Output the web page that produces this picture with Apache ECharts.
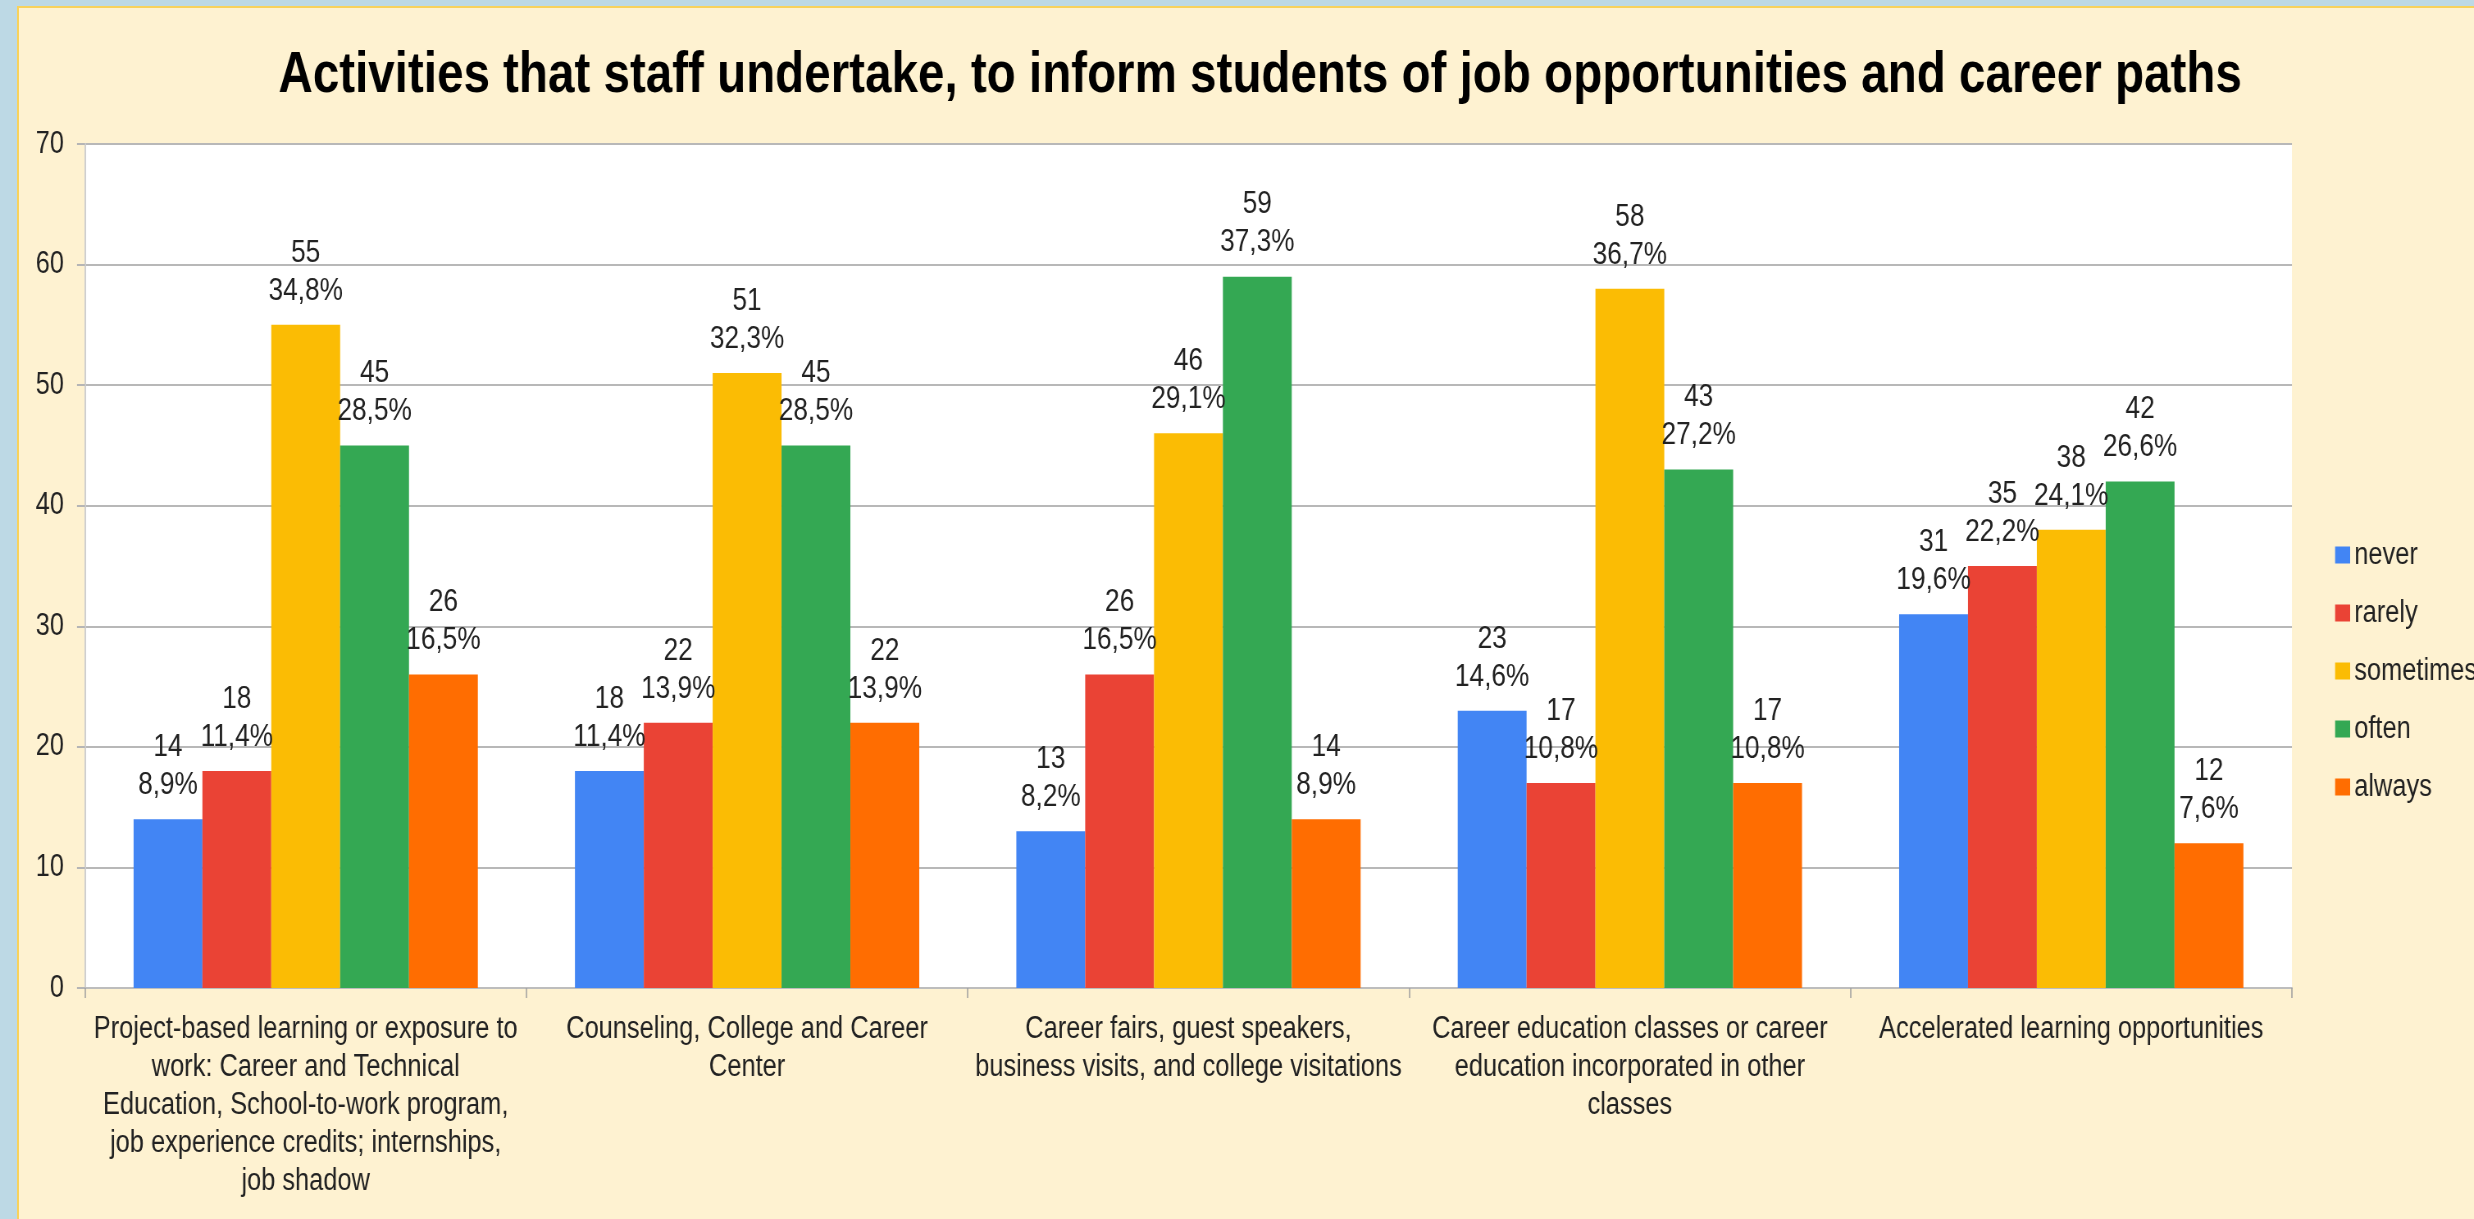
<!DOCTYPE html>
<html>
<head>
<meta charset="utf-8">
<title>Activities that staff undertake</title>
<script src="https://cdn.jsdelivr.net/npm/echarts@6/dist/echarts.min.js"></script>
<style>
  html, body { margin: 0; padding: 0; width: 2474px; height: 1219px; overflow: hidden; background: #BDD9E5; }
  #panel { position: absolute; left: 17px; top: 6px; width: 2457px; height: 1213px;
           background: #FEF2D1; border-top: 2px solid #F8D25C; border-left: 2px solid #F8D25C; box-sizing: border-box; }
  /* the chart is laid out wider and squeezed horizontally to get the condensed lettering */
  #chart { position: absolute; left: 0; top: 0; height: 1219px; transform-origin: 0 0; }
</style>
</head>
<body>
<div id="panel"></div>
<div id="chart"></div>
<script>
// Survey activities (x categories), line breaks as printed under the axis
const categories = [
  'Project-based learning or exposure to\nwork: Career and Technical\nEducation, School-to-work program,\njob experience credits; internships,\njob shadow',
  'Counseling, College and Career\nCenter',
  'Career fairs, guest speakers,\nbusiness visits, and college visitations',
  'Career education classes or career\neducation incorporated in other\nclasses',
  'Accelerated learning opportunities'
];

// Response frequency per activity (counts)
const seriesNames = ['never', 'rarely', 'sometimes', 'often', 'always'];
const never     = [14, 18, 13, 23, 31];
const rarely    = [18, 22, 26, 17, 35];
const sometimes = [55, 51, 46, 58, 38];
const often     = [45, 45, 59, 43, 42];
const always    = [26, 22, 14, 17, 12];

// Share of respondents, as printed under each count
const neverPct     = ['8,9%', '11,4%', '8,2%', '14,6%', '19,6%'];
const rarelyPct    = ['11,4%', '13,9%', '16,5%', '10,8%', '22,2%'];
const sometimesPct = ['34,8%', '32,3%', '29,1%', '36,7%', '24,1%'];
const oftenPct     = ['28,5%', '28,5%', '37,3%', '27,2%', '26,6%'];
const alwaysPct    = ['16,5%', '13,9%', '8,9%', '10,8%', '7,6%'];

// Value axis ticks
const yMin = 0, yMax = 70, yStep = 10;

const values = [never, rarely, sometimes, often, always];
const pcts = [neverPct, rarelyPct, sometimesPct, oftenPct, alwaysPct];
const colors = ['#4285F4', '#EA4335', '#FBBC04', '#34A853', '#FF6D01'];

// Horizontal squeeze factor and helper converting on-screen x distances to layout units
const K = 0.82;
const sx = v => v / K;

const FONT = "'Liberation Sans', Arial, sans-serif";
const TEXT = '#222222';

const el = document.getElementById('chart');
el.style.width = Math.round(2474 / K) + 'px';
el.style.transform = 'scaleX(' + K + ')';

const chart = echarts.init(el, null, { renderer: 'canvas' });

chart.setOption({
  animation: false,
  backgroundColor: 'transparent',
  color: colors,
  textStyle: { fontFamily: FONT },
  title: {
    text: 'Activities that staff undertake, to inform students of job opportunities and career paths',
    left: sx(1256),
    top: 42,
    textAlign: 'center',
    textStyle: { fontFamily: FONT, fontSize: 58, fontWeight: 'bold', color: '#000' }
  },
  legend: {
    orient: 'vertical',
    left: sx(2331),
    top: 534,
    itemWidth: sx(15),
    itemHeight: 17,
    itemGap: 26,
    icon: 'rect',
    textStyle: { fontFamily: FONT, fontSize: 31, lineHeight: 32, color: TEXT },
    data: seriesNames
  },
  grid: {
    left: sx(85), right: sx(182), top: 144, bottom: 231,
    show: true, backgroundColor: '#FFFFFF', borderWidth: 0
  },
  xAxis: {
    type: 'category',
    data: categories,
    axisLine: { show: true, lineStyle: { color: '#BDBDBD', width: 2 } },
    axisTick: { show: true, length: 10, lineStyle: { color: '#9E9E9E', width: 1.5 } },
    axisLabel: {
      interval: 0,
      margin: 22,
      fontFamily: FONT,
      fontSize: 31,
      lineHeight: 38,
      color: TEXT,
      align: 'center'
    }
  },
  yAxis: {
    type: 'value',
    min: yMin, max: yMax, interval: yStep,
    axisLine: { show: true, lineStyle: { color: '#CFCFCF', width: 2 } },
    axisTick: { show: true, length: sx(8), lineStyle: { color: '#B5B5B5', width: 2 } },
    axisLabel: { margin: sx(21), fontFamily: FONT, fontSize: 31, color: TEXT },
    splitLine: { show: true, lineStyle: { color: '#B8B8B8', width: 2 } }
  },
  series: seriesNames.map((name, s) => ({
    name,
    type: 'bar',
    data: values[s],
    barGap: '0%',
    barCategoryGap: '22%',
    itemStyle: { color: colors[s] },
    label: {
      show: true,
      position: 'top',
      distance: 15,
      fontFamily: FONT,
      fontSize: 32,
      lineHeight: 38,
      color: TEXT,
      align: 'center',
      formatter: p => p.value + '\n' + pcts[s][p.dataIndex]
    }
  }))
});
</script>
</body>
</html>
